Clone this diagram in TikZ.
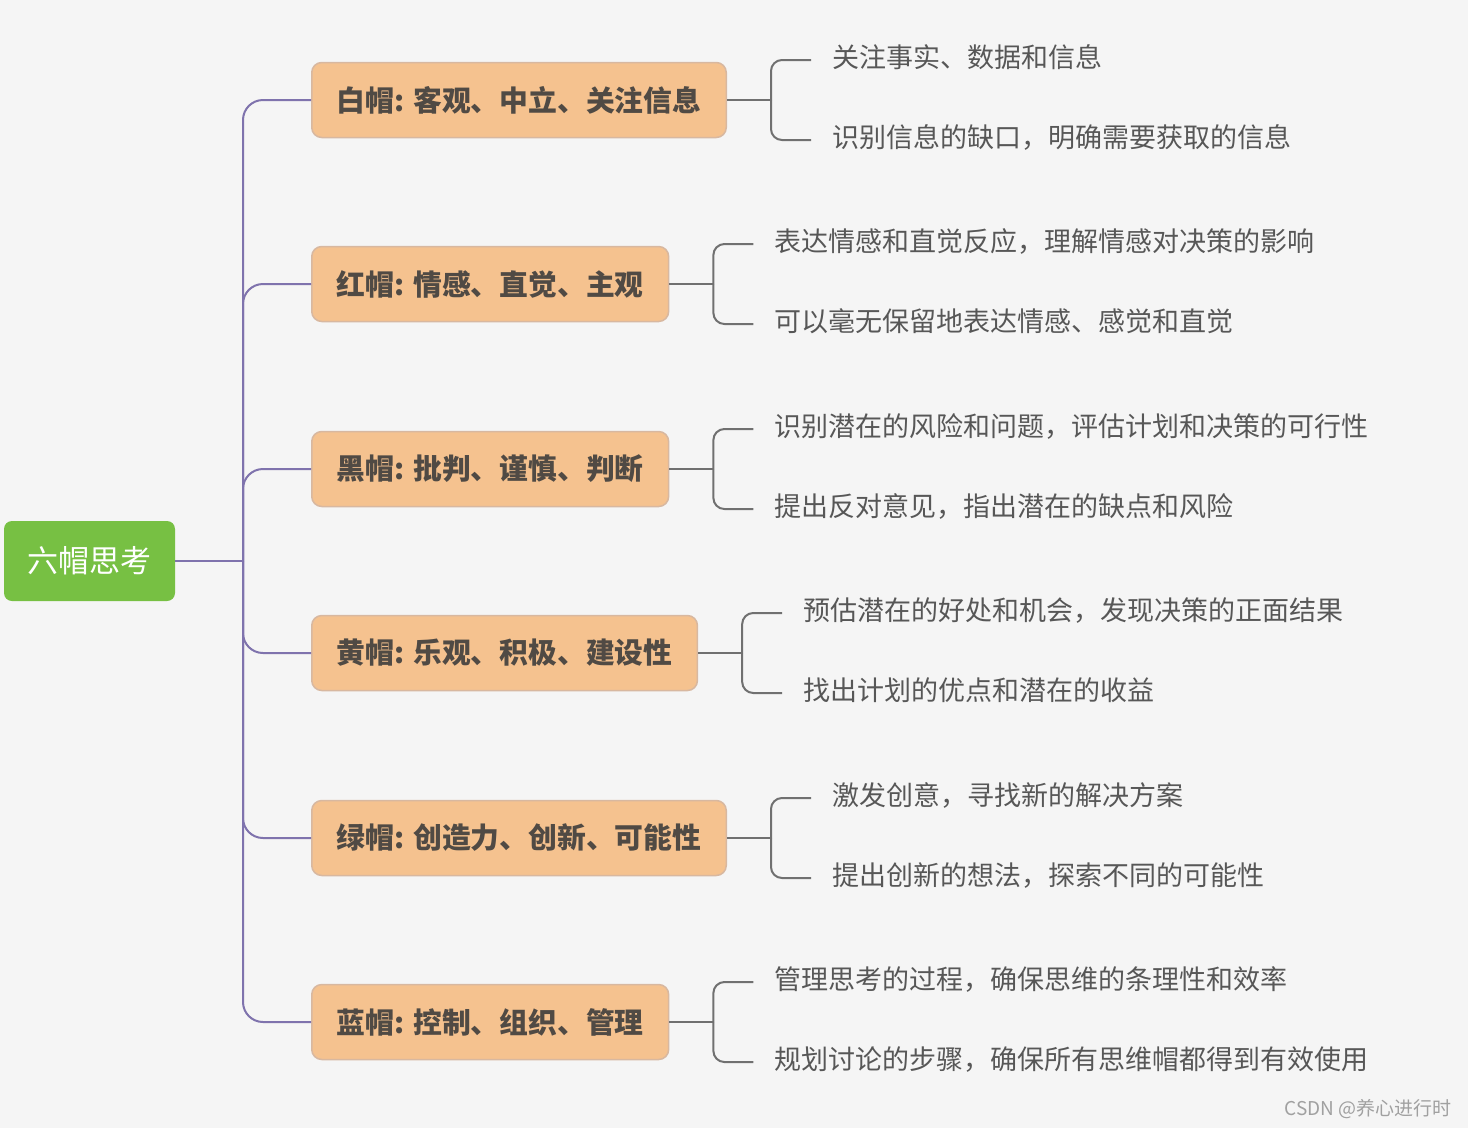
\documentclass[tikz,border=0pt]{standalone}
\usepackage{fontspec}
\newfontfamily\cjk{Noto Sans CJK SC}
\definecolor{bgcol}{HTML}{F5F5F5}
\definecolor{rootgreen}{HTML}{77C043}
\definecolor{branchfill}{HTML}{F5C28F}
\definecolor{branchborder}{HTML}{D8B8A0}
\definecolor{branchtext}{HTML}{504A44}
\definecolor{leaftext}{HTML}{575757}
\definecolor{trunkcol}{HTML}{7F73AD}
\definecolor{twigcol}{HTML}{707070}
\definecolor{markcol}{HTML}{A0A0A0}
\begin{document}
\begin{tikzpicture}[x=1pt,y=-1pt,
  rootbox/.style={rectangle, rounded corners=8pt, fill=rootgreen, text=white,
    font=\cjk\fontsize{31}{36}\selectfont, minimum width=171pt, minimum height=80pt, inner sep=0pt},
  branch/.style={rectangle, rounded corners=10pt, fill=branchfill, draw=branchborder, line width=1.5pt,
    text=branchtext, font=\cjk\bfseries\fontsize{28.8}{34}\selectfont, minimum height=75pt,
    inner xsep=25pt, anchor=west},
  leaf/.style={anchor=west, inner xsep=21pt, inner ysep=0pt, text=leaftext,
    font=\cjk\fontsize{27}{32}\selectfont, text height=20pt, text depth=6pt},
  trunk/.style={draw=trunkcol, line width=2pt, rounded corners=20pt},
  twig/.style={draw=twigcol, line width=2pt, rounded corners=11pt}]
\fill[bgcol] (0,0) rectangle (1468,1128);
\useasboundingbox (0,0) rectangle (1468,1128);

\node[rootbox] (root) at (89.5,561) {六帽思考};
\coordinate (tj) at (243,561);
\draw[trunk] (root.east) -- (tj);

\node[branch] (b1) at (311,100) {白帽: 客观、中立、关注信息};
\node[branch] (b2) at (311,284) {红帽: 情感、直觉、主观};
\node[branch] (b3) at (311,469) {黑帽: 批判、谨慎、判断};
\node[branch] (b4) at (311,653) {黄帽: 乐观、积极、建设性};
\node[branch] (b5) at (311,838) {绿帽: 创造力、创新、可能性};
\node[branch] (b6) at (311,1022) {蓝帽: 控制、组织、管理};

\foreach \b in {b1,b2,b3,b4,b5,b6}{
  \draw[trunk] (tj) |- (\b.west);
}

\foreach \b in {b1,b2,b3,b4,b5,b6}{
  \coordinate (\b j) at ([xshift=44pt]\b.east);
}

\node[leaf] (l1a) at ([shift={(40,-40)}]b1j) {关注事实、数据和信息};
\node[leaf] (l1b) at ([shift={(40,40)}]b1j) {识别信息的缺口，明确需要获取的信息};
\node[leaf] (l2a) at ([shift={(40,-40)}]b2j) {表达情感和直觉反应，理解情感对决策的影响};
\node[leaf] (l2b) at ([shift={(40,40)}]b2j) {可以毫无保留地表达情感、感觉和直觉};
\node[leaf] (l3a) at ([shift={(40,-40)}]b3j) {识别潜在的风险和问题，评估计划和决策的可行性};
\node[leaf] (l3b) at ([shift={(40,40)}]b3j) {提出反对意见，指出潜在的缺点和风险};
\node[leaf] (l4a) at ([shift={(40,-40)}]b4j) {预估潜在的好处和机会，发现决策的正面结果};
\node[leaf] (l4b) at ([shift={(40,40)}]b4j) {找出计划的优点和潜在的收益};
\node[leaf] (l5a) at ([shift={(40,-40)}]b5j) {激发创意，寻找新的解决方案};
\node[leaf] (l5b) at ([shift={(40,40)}]b5j) {提出创新的想法，探索不同的可能性};
\node[leaf] (l6a) at ([shift={(40,-40)}]b6j) {管理思考的过程，确保思维的条理性和效率};
\node[leaf] (l6b) at ([shift={(40,40)}]b6j) {规划讨论的步骤，确保所有思维帽都得到有效使用};

\foreach \i in {1,...,6}{
  \draw[twig] (b\i.east) -- (b\i j);
  \draw[twig] (b\i j) |- (l\i a.west);
  \draw[twig] (b\i j) |- (l\i b.west);
}

\node[anchor=east, text=markcol, font=\cjk\fontsize{19}{22}\selectfont, inner sep=0pt] (mark) at (1452,1109) {CSDN @养心进行时};
\end{tikzpicture}
\end{document}
